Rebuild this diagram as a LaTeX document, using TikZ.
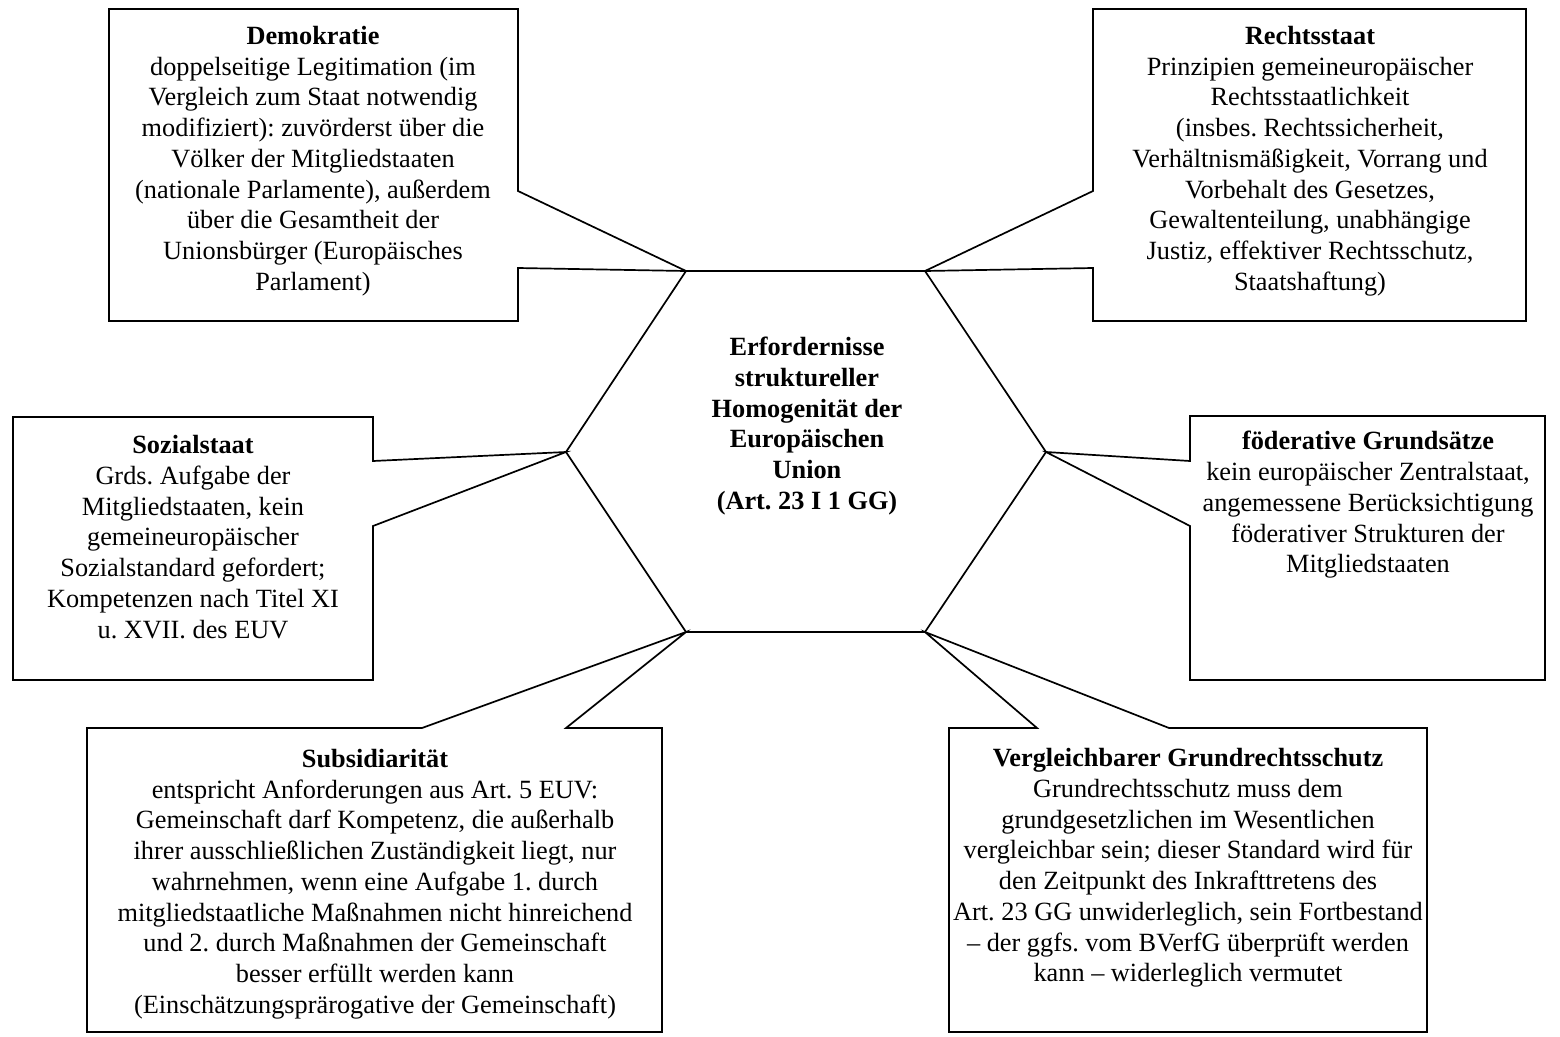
\documentclass[tikz,border=0pt]{standalone}
\usepackage{fontspec}
\setmainfont{Liberation Serif}
\begin{document}
\frenchspacing
\begin{tikzpicture}[x=1pt,y=-1pt,
  box/.style={draw=black,line width=1.7pt,line join=miter,fill=white},
  txt/.style={align=center,inner sep=0pt,font=\fontsize{26.3}{30.75}\selectfont},
  hexa/.style={draw=black,line width=1.7pt,line join=miter}]
\useasboundingbox (0,0) rectangle (1560,1036);
% hexagon vertices
\coordinate (hTL) at (686,271);
\coordinate (hTR) at (925,271);
\coordinate (hR) at (1046,452);
\coordinate (hBR) at (925,632);
\coordinate (hBL) at (686,632);
\coordinate (hL) at (566,452);
\draw[hexa] (hTL) -- (hTR) -- (hR) -- (hBR) -- (hBL) -- (hL) -- cycle;
% callout boxes
\draw[box] (109,9) -- (518,9) -- (518,191) -- (hTL) -- (518,268) -- (518,321) -- (109,321) -- cycle;
\draw[box] (1093,9) -- (1526,9) -- (1526,321) -- (1093,321) -- (1093,268) -- (hTR) -- (1093,191) -- cycle;
\draw[box] (13,417) -- (373,417) -- (373,461) -- (hL) -- (373,526) -- (373,680) -- (13,680) -- cycle;
\draw[box] (1190,416) -- (1545,416) -- (1545,680) -- (1190,680) -- (1190,526) -- (hR) -- (1190,461) -- cycle;
\draw[box] (87,728) -- (422,728) -- (hBL) -- (566,728) -- (662,728) -- (662,1032) -- (87,1032) -- cycle;
\draw[box] (949,728) -- (1037,728) -- (hBR) -- (1169,728) -- (1427,728) -- (1427,1032) -- (949,1032) -- cycle;
% texts
\node[txt] (center) at (807,426) {\bfseries Erfordernisse\\ \bfseries struktureller\\ \bfseries Homogenität der\\ \bfseries Europäischen\\ \bfseries Union\\ \bfseries (Art. 23 I 1 GG)};
\node[txt] (demo) at (313,161) {\textbf{Demokratie}\\ doppelseitige Legitimation (im\\ Vergleich zum Staat notwendig\\ modifiziert): zuvörderst über die\\ Völker der Mitgliedstaaten\\ (nationale Parlamente), außerdem\\ über die Gesamtheit der\\ Unionsbürger (Europäisches\\ Parlament)};
\node[txt] (recht) at (1310,161) {\textbf{Rechtsstaat}\\ Prinzipien gemeineuropäischer\\ Rechtsstaatlichkeit\\ (insbes. Rechtssicherheit,\\ Verhältnismäßigkeit, Vorrang und\\ Vorbehalt des Gesetzes,\\ Gewaltenteilung, unabhängige\\ Justiz, effektiver Rechtsschutz,\\ Staatshaftung)};
\node[txt] (sozial) at (193,537) {\textbf{Sozialstaat}\\ Grds. Aufgabe der\\ Mitgliedstaaten, kein\\ gemeineuropäischer\\ Sozialstandard gefordert;\\ Kompetenzen nach Titel XI\\ u. XVII. des EUV};
\node[txt] (foed) at (1368,505) {\textbf{föderative Grundsätze}\\ kein europäischer Zentralstaat,\\ angemessene Berücksichtigung\\ föderativer Strukturen der\\ Mitgliedstaaten};
\node[txt] (subs) at (375,884) {\textbf{Subsidiarität}\\ entspricht Anforderungen aus Art. 5 EUV:\\ Gemeinschaft darf Kompetenz, die außerhalb\\ ihrer ausschließlichen Zuständigkeit liegt, nur\\ wahrnehmen, wenn eine Aufgabe 1. durch\\ mitgliedstaatliche Maßnahmen nicht hinreichend\\ und 2. durch Maßnahmen der Gemeinschaft\\ besser erfüllt werden kann\\ (Einschätzungsprärogative der Gemeinschaft)};
\node[txt] (grund) at (1188,868) {\textbf{Vergleichbarer Grundrechtsschutz}\\ Grundrechtsschutz muss dem\\ grundgesetzlichen im Wesentlichen\\ vergleichbar sein; dieser Standard wird für\\ den Zeitpunkt des Inkrafttretens des\\ Art. 23 GG unwiderleglich, sein Fortbestand\\ – der ggfs. vom BVerfG überprüft werden\\ kann – widerleglich vermutet};
\end{tikzpicture}
\end{document}
